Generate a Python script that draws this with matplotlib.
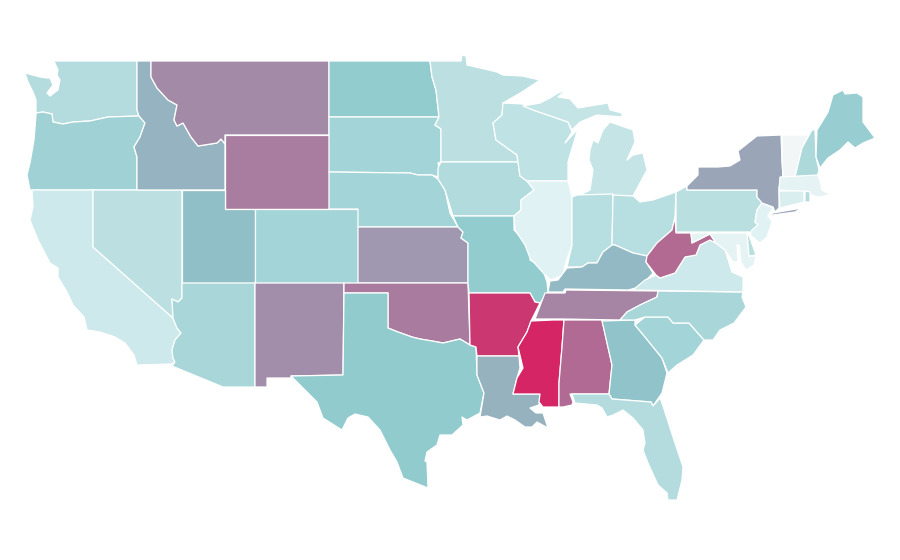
#!/usr/bin/env python3
"""US state choropleth. Outlines were traced by eye from the reference, in pixels."""
import matplotlib
matplotlib.use("Agg")
import matplotlib.pyplot as plt
from matplotlib.collections import PolyCollection
from matplotlib.colors import LinearSegmentedColormap

STATES = ["WA", "OR", "CA", "NV", "ID", "MT", "WY", "UT", "CO", "AZ", "NM", "ND", "SD",
          "NE", "KS", "OK", "TX", "MN", "IA", "MO", "AR", "LA", "WI", "IL", "MI", "MI2",
          "IN", "OH", "KY", "TN", "MS", "AL", "GA", "FL", "SC", "NC", "VA", "WV", "PA",
          "MD", "DE", "NJ", "NY", "LI", "VT", "NH", "ME", "MA", "CT", "RI"]
VALUES = [25, 33, 15, 22, 48.6, 64.5, 69.6, 44, 32, 30, 63, 38, 32,
          32, 59, 70, 39, 22, 26, 38, 92, 49, 21, 8, 19, 19,
          24, 24, 46, 67, 98, 75.5, 42, 25, 32, 30, 15, 76, 23,
          6, 24, 8, 54, 54, 1, 28, 36, 6, 11, 25]

OUTLINES = {
    "WA": [(54, 61), (137, 61), (137, 110), (139, 116), (108, 117), (90, 121), (73, 122), (63, 124),
           (53, 122), (52, 114), (43, 112), (36, 113), (36, 100), (33, 92), (28, 82), (25, 73),
           (40, 77), (47, 78), (50, 78), (53, 85), (47, 93), (50, 96), (58, 90), (60, 80), (57, 75), (58, 70)],
    "OR": [(36, 113), (43, 112), (52, 114), (53, 122), (63, 124), (73, 122), (90, 121), (108, 117),
           (139, 116), (145, 123), (140, 137), (134, 147), (137, 157), (137, 190), (30, 190),
           (27, 175), (30, 163), (34, 140), (36, 115)],
    "CA": [(32, 190), (93, 190), (93, 247), (173, 318), (177, 328), (181, 333), (175, 340), (172, 350),
           (173, 358), (175, 362), (171, 364), (137, 365), (134, 355), (125, 343), (115, 337), (100, 332),
           (87, 330), (84, 317), (73, 305), (67, 292), (58, 277), (58, 268), (50, 263), (38, 240),
           (30, 220), (33, 207)],
    "NV": [(93, 190), (182, 190), (182, 298), (178, 302), (172, 299), (173, 318), (93, 247)],
    "ID": [(137, 61), (151, 61), (151, 77), (157, 88), (168, 100), (177, 105), (174, 120), (177, 126),
           (183, 123), (191, 137), (198, 146), (217, 143), (221, 139), (225, 144), (225, 190), (137, 190),
           (137, 157), (134, 147), (140, 137), (145, 123), (139, 116), (137, 110)],
    "MT": [(151, 61), (329, 61), (329, 135), (225, 135), (225, 144), (221, 139), (217, 143), (198, 146),
           (191, 137), (183, 123), (177, 126), (174, 120), (177, 105), (168, 100), (157, 88), (151, 77)],
    "WY": [(225, 135), (329, 135), (329, 209), (225, 209)],
    "UT": [(182, 190), (225, 190), (225, 209), (255, 209), (255, 283), (182, 283)],
    "CO": [(255, 209), (358, 209), (358, 283), (255, 283)],
    "AZ": [(182, 283), (255, 283), (255, 387), (223, 387), (172, 366), (175, 362), (173, 358), (172, 350),
           (175, 340), (181, 333), (177, 328), (173, 318), (172, 299), (178, 302), (182, 298)],
    "NM": [(255, 283), (344, 283), (343, 375), (291, 376), (291, 378), (267, 378), (267, 387), (255, 387)],
    "ND": [(329, 61), (430, 61), (432, 77), (436, 90), (439, 117), (329, 117)],
    "SD": [(329, 117), (439, 117), (435, 125), (441, 129), (441, 162), (438, 163), (439, 168), (438, 177),
           (432, 175), (418, 175), (410, 173), (329, 172)],
    "NE": [(329, 172), (410, 173), (418, 175), (432, 175), (438, 179), (445, 190), (450, 213), (458, 227),
           (358, 227), (358, 209), (329, 209)],
    "KS": [(358, 227), (458, 227), (463, 232), (461, 238), (468, 243), (468, 283), (358, 283)],
    "OK": [(344, 283), (468, 283), (470, 345), (460, 339), (443, 343), (432, 341), (420, 339), (412, 337),
           (398, 332), (388, 328), (388, 293), (344, 293)],
    "TX": [(344, 293), (388, 293), (388, 328), (398, 332), (412, 337), (420, 339), (432, 341), (443, 343),
           (460, 339), (470, 345), (476, 347), (477, 375), (484, 393), (480, 413), (467, 420), (462, 417),
           (463, 425), (452, 435), (440, 435), (437, 445), (427, 452), (425, 461), (427, 462), (428, 488),
           (403, 478), (397, 462), (390, 450), (380, 430), (368, 417), (355, 414), (348, 418), (342, 430),
           (323, 418), (317, 402), (302, 387), (291, 376), (343, 375)],
    "MN": [(430, 61), (461, 61), (462, 55), (466, 56), (467, 65), (480, 68), (497, 72), (503, 75), (522, 76),
           (540, 80), (522, 92), (503, 103), (502, 115), (493, 123), (496, 140), (517, 155), (518, 162),
           (441, 162), (441, 129), (435, 125), (439, 117), (436, 90), (432, 77)],
    "IA": [(441, 162), (518, 162), (520, 176), (527, 181), (534, 190), (521, 200), (521, 210), (514, 216),
           (453, 216), (445, 190), (438, 179), (438, 168)],
    "MO": [(453, 216), (514, 216), (514, 230), (532, 248), (530, 260), (542, 267), (547, 282), (548, 292),
           (540, 303), (535, 302), (530, 293), (469, 293), (468, 283), (468, 243), (461, 238), (463, 232),
           (458, 227)],
    "AR": [(469, 293), (530, 293), (535, 302), (540, 303), (535, 313), (531, 321), (527, 332), (518, 347),
           (519, 356), (477, 356), (476, 347), (470, 345)],
    "LA": [(477, 356), (519, 356), (520, 368), (517, 378), (513, 394), (540, 394), (539, 405), (530, 408),
           (536, 413), (543, 413), (548, 428), (537, 422), (532, 427), (525, 427), (515, 420), (507, 416),
           (500, 420), (487, 416), (480, 417), (484, 393), (477, 375)],
    "WI": [(503, 103), (523, 104), (533, 110), (568, 122), (572, 132), (565, 143), (578, 129), (573, 145),
           (568, 162), (568, 181), (527, 181), (520, 176), (518, 162), (517, 155), (496, 140), (493, 123),
           (502, 115)],
    "IL": [(527, 181), (568, 181), (572, 197), (572, 245), (565, 265), (563, 275), (551, 280), (545, 275),
           (530, 258), (525, 245), (515, 230), (514, 216), (521, 210), (521, 200), (534, 190)],
    "MI": [(580, 195), (590, 190), (593, 170), (589, 160), (590, 150), (593, 140), (598, 143), (603, 130),
           (610, 122), (633, 130), (635, 142), (627, 160), (633, 155), (643, 153), (647, 170), (640, 183),
           (633, 196)],
    "MI2": [(523, 106), (540, 103), (550, 98), (558, 93), (566, 90), (558, 97), (570, 99), (578, 108), (608, 103),
            (610, 110), (622, 113), (622, 117), (597, 115), (580, 122), (572, 130), (568, 122), (533, 110)],
    "IN": [(572, 197), (577, 195), (613, 194), (612, 245), (603, 252), (597, 263), (588, 263), (582, 267),
           (567, 267), (572, 245)],
    "OH": [(613, 195), (633, 196), (640, 202), (653, 200), (676, 192), (675, 217), (672, 230), (657, 243),
           (647, 256), (633, 253), (615, 245), (612, 245)],
    "KY": [(612, 245), (615, 245), (633, 253), (647, 256), (646, 262), (653, 273), (640, 287), (628, 290),
           (565, 289), (563, 292), (548, 292), (550, 281), (558, 280), (567, 268), (582, 267), (588, 263),
           (597, 263), (603, 252)],
    "TN": [(535, 319), (545, 293), (565, 293), (566, 290), (658, 291), (657, 297), (640, 305), (627, 312),
           (620, 320), (563, 319)],
    "MS": [(531, 321), (553, 320), (564, 320), (562, 347), (559, 383), (559, 407), (543, 407), (539, 402),
           (540, 394), (513, 394), (517, 378), (523, 368), (518, 347), (527, 332)],
    "AL": [(564, 320), (602, 320), (612, 365), (609, 394), (570, 394), (573, 402), (572, 405), (563, 407),
           (559, 407), (559, 383), (562, 347)],
    "GA": [(602, 321), (635, 320), (635, 325), (645, 337), (662, 358), (667, 373), (662, 393), (653, 406),
           (651, 402), (612, 399), (609, 394), (612, 365)],
    "FL": [(572, 394), (609, 394), (612, 399), (651, 402), (653, 406), (660, 398), (662, 403), (673, 437),
           (683, 467), (682, 480), (677, 500), (668, 500), (667, 493), (658, 485), (648, 463), (643, 450),
           (645, 443), (643, 430), (633, 418), (623, 410), (613, 415), (607, 417), (602, 408), (597, 405),
           (575, 403)],
    "SC": [(635, 325), (645, 317), (668, 317), (673, 323), (689, 323), (704, 340), (693, 355), (677, 365),
           (668, 373), (662, 358), (645, 337)],
    "NC": [(620, 320), (627, 312), (640, 305), (657, 297), (658, 291), (743, 292), (742, 297), (746, 307),
           (734, 323), (720, 330), (713, 340), (704, 340), (689, 323), (673, 323), (668, 317), (645, 317),
           (635, 320)],
    "VA": [(633, 290), (645, 280), (656, 275), (660, 278), (675, 273), (685, 257), (696, 255), (700, 245),
           (710, 240), (716, 243), (725, 250), (732, 272), (743, 277), (743, 292)],
    "WV": [(675, 217), (676, 233), (691, 233), (692, 243), (710, 234), (716, 243), (710, 240), (700, 245),
           (696, 255), (685, 257), (675, 273), (660, 278), (656, 275), (646, 262), (647, 256), (657, 243),
           (672, 230)],
    "PA": [(676, 192), (687, 186), (687, 190), (757, 190), (757, 197), (762, 203), (757, 210), (755, 222),
           (758, 225), (752, 232), (676, 232)],
    "MD": [(691, 233), (747, 233), (749, 256), (756, 256), (754, 265), (746, 270), (741, 262), (739, 245),
           (737, 245), (738, 262), (733, 262), (725, 250), (716, 243), (710, 234), (692, 243)],
    "DE": [(747, 232), (750, 238), (756, 255), (749, 256)],
    "NJ": [(762, 203), (773, 208), (768, 215), (772, 222), (767, 237), (760, 243), (750, 235), (752, 230),
           (758, 225), (755, 222), (757, 210)],
    "NY": [(687, 190), (687, 186), (698, 175), (698, 167), (718, 167), (730, 166), (740, 160), (738, 151),
           (757, 136), (781, 135), (782, 160), (783, 177), (779, 187), (779, 208), (775, 212), (773, 207),
           (762, 203), (757, 197), (757, 190)],
    "LI": [(768, 217), (773, 213), (802, 208), (795, 212), (773, 215)],
    "VT": [(782, 135), (809, 135), (802, 148), (795, 177), (783, 177), (782, 160)],
    "NH": [(812, 130), (815, 130), (816, 157), (819, 170), (817, 177), (795, 177), (802, 148)],
    "ME": [(817, 130), (822, 122), (828, 112), (833, 95), (843, 90), (845, 94), (857, 93), (863, 97),
           (863, 122), (875, 138), (863, 143), (855, 148), (848, 142), (840, 150), (828, 158), (820, 168),
           (816, 157)],
    "MA": [(780, 177), (818, 175), (820, 180), (822, 190), (830, 195), (818, 197), (812, 195), (808, 192),
           (779, 190)],
    "CT": [(779, 191), (804, 191), (804, 202), (780, 208)],
    "RI": [(805, 191), (810, 192), (810, 202), (805, 202)],
}

CMAP_STOPS = [(0.0, "#f4f6f7"), (0.08, "#e0f2f3"), (0.4, "#8ec9cd"), (0.7, "#a87c9f"), (1.0, "#d81f60")]

cmap = LinearSegmentedColormap.from_list("states", CMAP_STOPS)

fig = plt.figure(figsize=(9, 5.6), dpi=100, facecolor="white")
ax = fig.add_axes([0, 0, 1, 1])
ax.set_xlim(0, 900)
ax.set_ylim(560, 0)
ax.axis("off")

polys = PolyCollection([OUTLINES[s] for s in STATES], array=VALUES, cmap=cmap,
                       edgecolors="white", linewidths=0.9)
polys.set_clim(0, 100)
ax.add_collection(polys)

fig.savefig("out.png", dpi=100, facecolor="white")
